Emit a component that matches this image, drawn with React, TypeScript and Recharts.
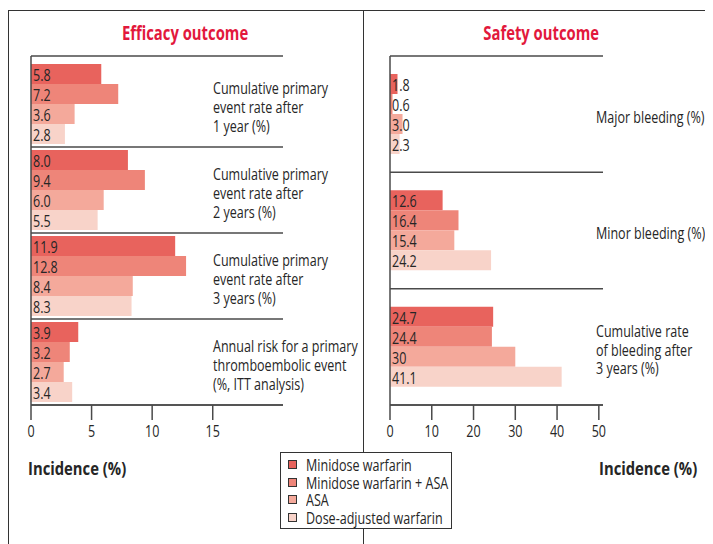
import React from 'react';
import { BarChart, Bar, XAxis, YAxis, CartesianGrid, LabelList } from 'recharts';

// series
const seriesNames = ['Minidose warfarin', 'Minidose warfarin + ASA', 'ASA', 'Dose-adjusted warfarin'];
const seriesColors = ['#e8635d', '#ee8579', '#f4a99b', '#f8d3c9'];

// efficacy panel (values kept as printed)
const efficacyCategories = [
  'Cumulative primary\nevent rate after\n1 year (%)',
  'Cumulative primary\nevent rate after\n2 years (%)',
  'Cumulative primary\nevent rate after\n3 years (%)',
  'Annual risk for a primary\nthromboembolic event\n(%, ITT analysis)',
];
const efficacyMinidose = ['5.8', '8.0', '11.9', '3.9'];
const efficacyMinidoseAsa = ['7.2', '9.4', '12.8', '3.2'];
const efficacyAsa = ['3.6', '6.0', '8.4', '2.7'];
const efficacyAdjusted = ['2.8', '5.5', '8.3', '3.4'];
const efficacyTicks = [0, 5, 10, 15];

// safety panel
const safetyCategories = ['Major bleeding (%)', 'Minor bleeding (%)', 'Cumulative rate\nof bleeding after\n3 years (%)'];
const safetyMinidose = ['1.8', '12.6', '24.7'];
const safetyMinidoseAsa = ['0.6', '16.4', '24.4'];
const safetyAsa = ['3.0', '15.4', '30'];
const safetyAdjusted = ['2.3', '24.2', '41.1'];
const safetyTicks = [0, 10, 20, 30, 40, 50];

const FONT = '"Open Sans", "Noto Sans", sans-serif';
const TEXT = '#262626';
const LINE = '#4a4a4a';
// the original uses a condensed face; squeeze glyphs horizontally
const SX = 0.76;

const buildRows = (cats: string[], cols: string[][]) =>
  cats.map((name, i) => {
    const row: any = { name };
    cols.forEach((col, s) => {
      row['s' + s] = Number(col[i]);
      row['l' + s] = col[i];
    });
    return row;
  });

const efficacyData = buildRows(efficacyCategories, [efficacyMinidose, efficacyMinidoseAsa, efficacyAsa, efficacyAdjusted]);
const safetyData = buildRows(safetyCategories, [safetyMinidose, safetyMinidoseAsa, safetyAsa, safetyAdjusted]);

// lines between the category bands (bands are equal slices of the padded plot height)
const bandLines = (n: number, pad: number) => (props: any) => {
  const { offset } = props;
  const pts: number[] = [offset.top];
  const h = offset.height - pad;
  for (let i = 1; i <= n; i++) pts.push(offset.top + pad + (i * h) / n);
  return pts;
};

const CategoryTick = (dx: number) => (props: any) => {
  const { x, y, payload } = props;
  const lines = String(payload.value).split('\n');
  const lh = 18.7;
  const y0 = -((lines.length - 1) * lh) / 2 + 3;
  return (
    <g transform={`translate(${x + dx} ${y}) scale(${SX} 1)`}>
      <text x={0} y={y0} fill={TEXT} fontSize={16.5} fontFamily={FONT} textAnchor="start">
        {lines.map((l, i) => (
          <tspan key={i} x={0} y={y0 + i * lh} dy="0.36em">
            {l}
          </tspan>
        ))}
      </text>
    </g>
  );
};

const NumberTick = (props: any) => {
  const { x, y, payload } = props;
  return (
    <g transform={`translate(${x} ${y}) scale(${SX} 1)`}>
      <text x={0} y={0} dy="0.85em" textAnchor="middle" fill={TEXT} fontSize={16.5} fontFamily={FONT}>
        {payload.value}
      </text>
    </g>
  );
};

const valueLabel = (props: any) => {
  const { x, y, height, value } = props;
  return (
    <g transform={`translate(${x + 2} ${y + height / 2 + 1}) scale(${SX} 1)`}>
      <text x={0} y={0} dy="0.36em" fill={TEXT} fontSize={16.5} fontFamily={FONT}>
        {value}
      </text>
    </g>
  );
};

interface PanelProps {
  data: any[];
  n: number;
  domainMax: number;
  ticks: number[];
  axisWidth: number;
  rightMargin: number;
  width: number;
  labelDx: number;
  topPad: number;
}

function Panel({ data, n, domainMax, ticks, axisWidth, rightMargin, width, labelDx, topPad }: PanelProps) {
  return (
    <BarChart
      width={width}
      height={480}
      data={data}
      layout="vertical"
      margin={{ top: 48, right: rightMargin, left: 0, bottom: 53 }}
      barGap={0}
      style={{ overflow: 'visible' }}
    >
      <CartesianGrid
        vertical={false}
        stroke={LINE}
        strokeWidth={1.5}
        horizontalCoordinatesGenerator={bandLines(n, topPad)}
      />
      <XAxis
        type="number"
        domain={[0, domainMax]}
        ticks={ticks}
        allowDataOverflow
        height={30}
        tickSize={15}
        tickMargin={3}
        axisLine={{ stroke: LINE, strokeWidth: 1.5 }}
        tickLine={{ stroke: LINE, strokeWidth: 1.5 }}
        tick={NumberTick}
      />
      <YAxis
        type="category"
        dataKey="name"
        width={axisWidth}
        padding={{ top: topPad, bottom: 0 }}
        tickSize={0}
        tickMargin={0}
        tickLine={false}
        axisLine={{ stroke: LINE, strokeWidth: 1.5 }}
        tick={CategoryTick(labelDx)}
        interval={0}
      />
      {seriesNames.map((name, s) => (
        <Bar key={name} dataKey={'s' + s} name={name} fill={seriesColors[s]} barSize={20} isAnimationActive={false}>
          <LabelList dataKey={'l' + s} content={valueLabel} />
        </Bar>
      ))}
    </BarChart>
  );
}

const squeeze = (origin: string, sx = SX) => ({
  display: 'inline-block',
  transform: `scaleX(${sx})`,
  transformOrigin: origin,
  whiteSpace: 'nowrap' as const,
});

export default function App() {
  const title = { position: 'absolute' as const, top: 13, fontSize: 19.5, lineHeight: '24px', fontWeight: 700, color: '#e2183c', textAlign: 'center' as const, fontFamily: FONT };
  const axisTitle = { position: 'absolute' as const, top: 449, fontSize: 18.5, lineHeight: '22px', fontWeight: 700, color: TEXT, fontFamily: FONT };
  return (
    <div style={{ position: 'relative', width: 705, height: 536, fontFamily: FONT, background: '#fff' }}>
      {/* frame */}
      <div style={{ position: 'absolute', left: 0, top: 2, width: 705, height: 0, borderTop: '1.5px solid #333' }} />
      <div style={{ position: 'absolute', left: 0, top: 2, width: 0, height: 534, borderLeft: '1.5px solid #333' }} />
      <div style={{ position: 'absolute', left: 355, top: 2, width: 0, height: 534, borderLeft: '1.5px solid #333' }} />

      <div style={{ ...title, left: 0, width: 354 }}>
        <span style={squeeze('center')}>Efficacy outcome</span>
      </div>
      <div style={{ ...title, left: 355, width: 356 }}>
        <span style={squeeze('center')}>Safety outcome</span>
      </div>

      <div style={{ position: 'absolute', left: 0, top: 0 }}>
        <Panel
          data={efficacyData}
          n={efficacyCategories.length}
          domainMax={20.8}
          ticks={efficacyTicks}
          axisWidth={23}
          rightMargin={80}
          width={355}
          labelDx={182}
          topPad={5}
        />
      </div>
      <div style={{ position: 'absolute', left: 355, top: 0 }}>
        <Panel
          data={safetyData}
          n={safetyCategories.length}
          domainMax={51}
          ticks={safetyTicks}
          axisWidth={27}
          rightMargin={110}
          width={350}
          labelDx={206}
          topPad={0}
        />
      </div>

      <div style={{ ...axisTitle, left: 20 }}>
        <span style={squeeze('left center', 0.8)}>Incidence (%)</span>
      </div>
      <div style={{ ...axisTitle, left: 591 }}>
        <span style={squeeze('left center', 0.8)}>Incidence (%)</span>
      </div>

      {/* legend */}
      <div
        style={{
          position: 'absolute',
          left: 272,
          top: 444,
          width: 172,
          height: 77,
          boxSizing: 'border-box',
          border: '1.5px solid #333',
          background: '#fff',
          padding: '3px 0 0 6.5px',
        }}
      >
        {seriesNames.map((name, s) => (
          <div
            key={name}
            style={{ display: 'flex', alignItems: 'center', height: 17.5, lineHeight: '17.5px', fontSize: 16.5, color: TEXT }}
          >
            <span
              style={{
                display: 'inline-block',
                flex: 'none',
                width: 9,
                height: 9,
                boxSizing: 'border-box',
                border: '1px solid #333',
                background: seriesColors[s],
                marginRight: 9,
              }}
            />
            <span style={squeeze('left center')}>{name}</span>
          </div>
        ))}
      </div>
    </div>
  );
}
